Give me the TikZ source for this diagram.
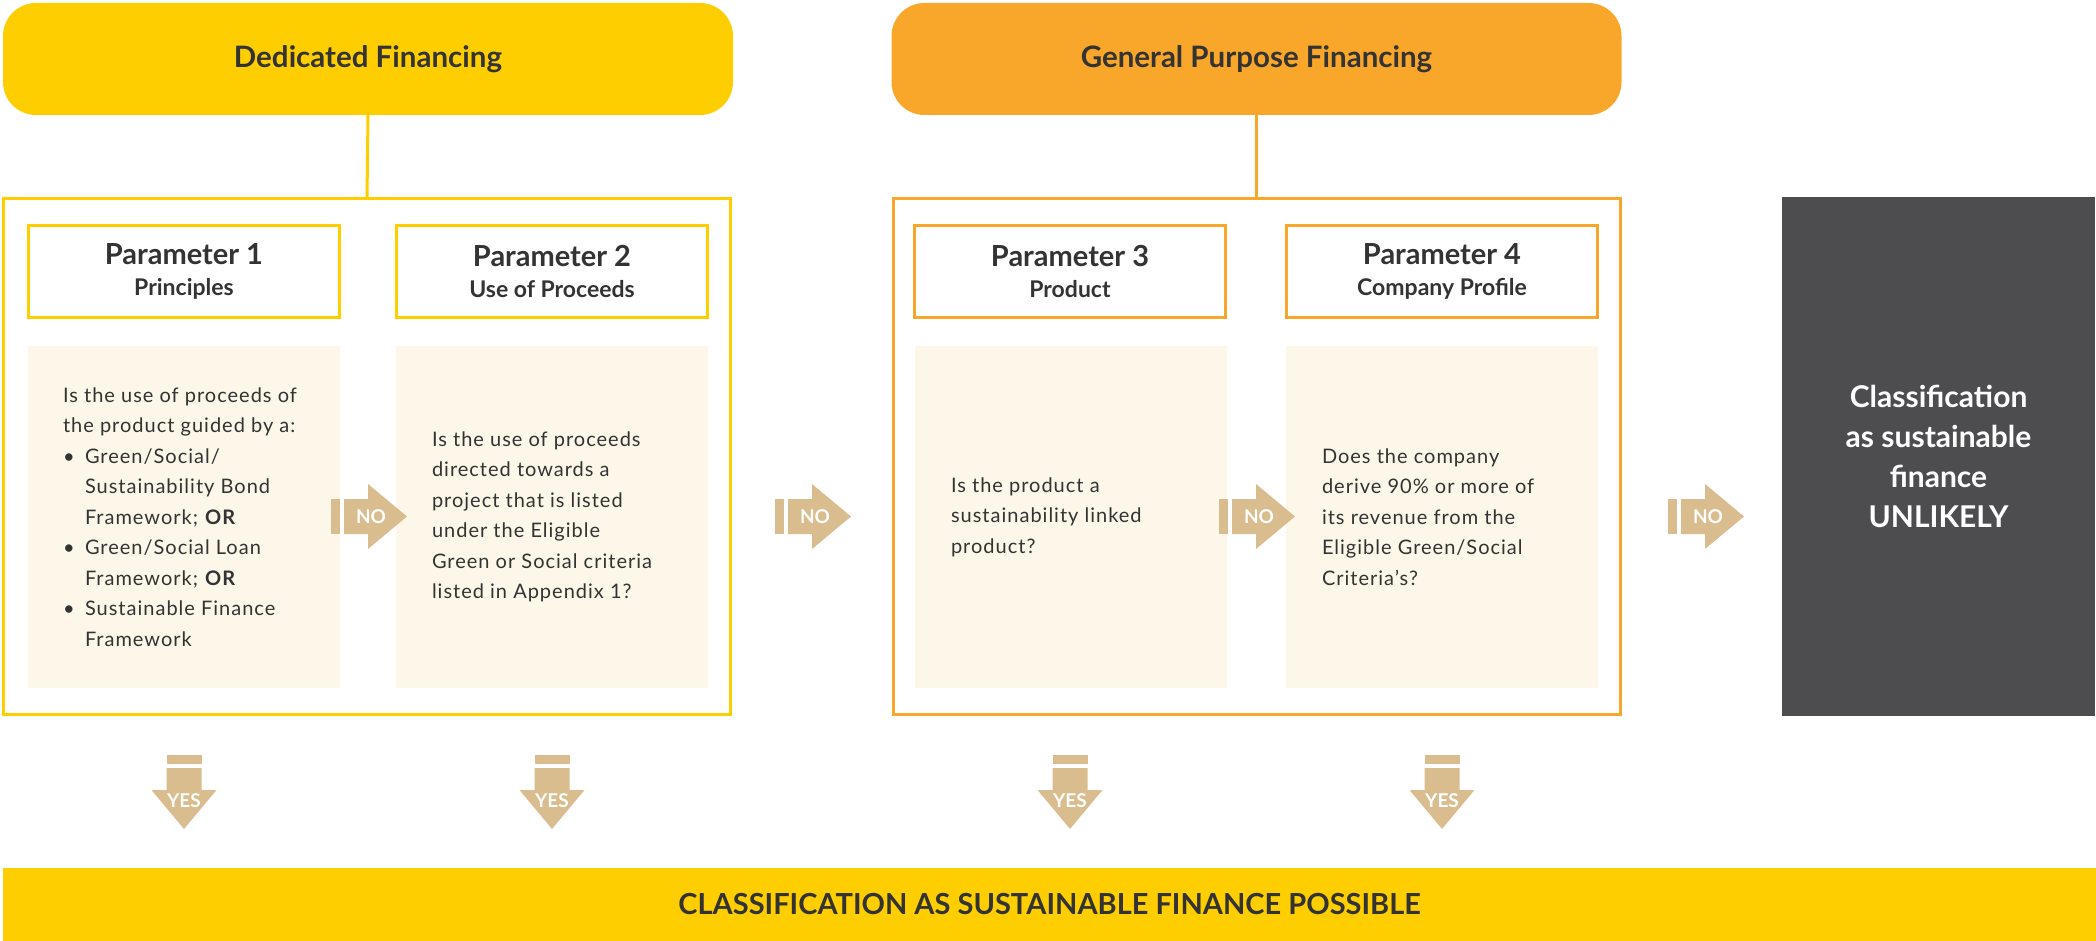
\documentclass[tikz,border=0pt]{standalone}
\usepackage{fontspec}
\setmainfont{Lato}
\newcommand\subfont{\fontsize{23}{30}\selectfont\bfseries}
\definecolor{sunyellow}{HTML}{FFCE00}
\definecolor{amber}{HTML}{F9A72B}
\definecolor{cream}{HTML}{FDF7E9}
\definecolor{sand}{HTML}{D9BD8E}
\definecolor{slate}{HTML}{4D4D4F}
\definecolor{ink}{HTML}{333333}
\begin{document}
\begin{tikzpicture}[x=1pt,y=-1pt,
  plain/.style={inner sep=0pt, outer sep=0pt},
  header/.style={plain, rounded corners=33pt, minimum width=730pt, minimum height=112pt,
    text=ink, font=\fontsize{29.5}{34}\selectfont\bfseries},
  frame/.style={plain, draw, line width=3pt, minimum width=727pt, minimum height=516pt},
  param/.style={plain, draw, line width=3pt, fill=white, minimum width=311pt, minimum height=92pt,
    align=center, text=ink, font=\fontsize{29}{31}\selectfont\bfseries},
  question/.style={plain, fill=cream, minimum width=312pt, minimum height=342pt},
  qtext/.style={plain, anchor=west, align=left, text=ink,
    font=\fontsize{20}{30.5}\selectfont\addfontfeature{LetterSpace=5}},
  tag/.style={plain, text=white, font=\fontsize{19}{22}\selectfont\bfseries}]
\useasboundingbox (0,0) rectangle (2096,941);

% Financing types
\node[header, fill=sunyellow] (dedicated) at (368,59) {Dedicated Financing};
\node[header, fill=amber] (general) at (1256.5,59) {General Purpose Financing};

% Frames round the parameters
\node[frame, draw=sunyellow] (dedframe) at (367,456.5) {};
\node[frame, draw=amber] (genframe) at (1256.5,456.5) {};
\draw[sunyellow, line width=3pt] (dedicated.south) -- (dedframe.north);
\draw[amber, line width=3pt] (general.south) -- (genframe.north);

% Parameter titles
\node[param, draw=sunyellow] (p1) at (184,271.5) {Parameter 1\\{\subfont Principles}};
\node[param, draw=sunyellow] (p2) at (552,271.5) {Parameter 2\\{\subfont Use of Proceeds}};
\node[param, draw=amber] (p3) at (1070,271.5) {Parameter 3\\{\subfont Product}};
\node[param, draw=amber] (p4) at (1442,271.5) {Parameter 4\\{\subfont Company Profile}};

% Questions
\node[question] (q1) at (184,517) {};
\node[question] (q2) at (552,517) {};
\node[question] (q3) at (1071,517) {};
\node[question] (q4) at (1442,517) {};
\node[qtext] (t1) at ([xshift=35pt]q1.west) {Is the use of proceeds of\\the product guided by a:\\
  \makebox[22pt][l]{\textbullet}Green/Social/\\\hspace*{22pt}Sustainability Bond\\\hspace*{22pt}Framework; \textbf{OR}\\
  \makebox[22pt][l]{\textbullet}Green/Social Loan\\\hspace*{22pt}Framework; \textbf{OR}\\
  \makebox[22pt][l]{\textbullet}Sustainable Finance\\\hspace*{22pt}Framework};
\node[qtext] (t2) at ([xshift=36pt]q2.west) {Is the use of proceeds\\directed towards a\\project that is listed\\under the Eligible\\Green or Social criteria\\listed in Appendix 1?};
\node[qtext] (t3) at ([xshift=36pt]q3.west) {Is the product a\\sustainability linked\\product?};
\node[qtext] (t4) at ([xshift=36pt]q4.west) {Does the company\\derive 90\% or more of\\its revenue from the\\Eligible Green/Social\\Criteria’s?};

% Outcomes
\node[plain, fill=slate, minimum width=313pt, minimum height=518pt, align=center, text=white,
  font=\fontsize{30}{40}\selectfont\bfseries] (unlikely) at (1938.5,456.5)
  {Classification\\as sustainable\\finance\\UNLIKELY};
\node[plain, fill=sunyellow, minimum width=2093pt, minimum height=73pt, text=ink,
  font=\fontsize{29}{34}\selectfont\bfseries] (possible) at (1049.5,904.5)
  {CLASSIFICATION AS SUSTAINABLE FINANCE POSSIBLE};

% NO arrows
\foreach \x [count=\i] in {331,775,1219,1668} {
  \fill[sand] (\x,499) rectangle ++(9,35);
  \fill[sand] (\x+13,499) -- (\x+37,499) -- (\x+37,484) -- (\x+76,516.5)
    -- (\x+37,549) -- (\x+37,534) -- (\x+13,534) -- cycle;
  \node[tag] (no\i) at (\x+40,516.5) {NO};
}

% YES arrows
\foreach \x [count=\i] in {184,552,1070,1442} {
  \fill[sand] (\x-17.5,755) rectangle ++(35,9);
  \fill[sand] (\x-17.5,768) -- (\x+17.5,768) -- (\x+17.5,790) -- (\x+32.5,790)
    -- (\x,829) -- (\x-32.5,790) -- (\x-17.5,790) -- cycle;
  \node[tag] (yes\i) at (\x,801) {YES};
}
\end{tikzpicture}
\end{document}
